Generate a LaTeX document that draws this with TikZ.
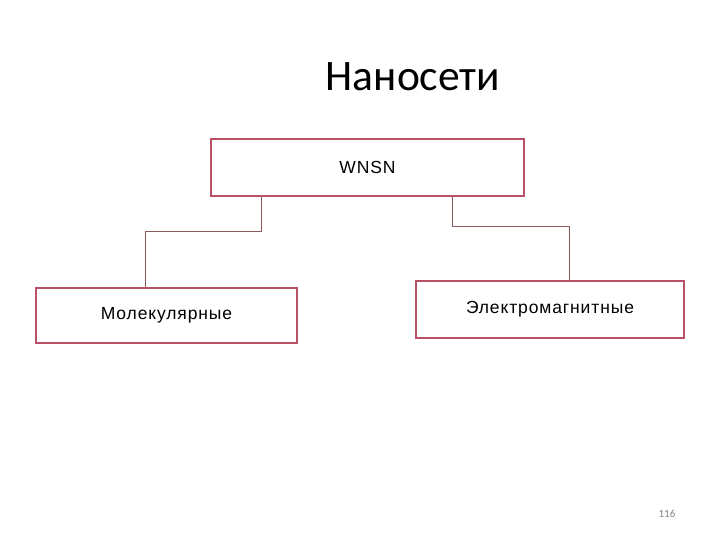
\documentclass[tikz,border=0pt]{standalone}
\usepackage{fontspec}
\setmainfont{Liberation Sans}
\newfontfamily\titlefont{Carlito}
\usepackage{tikz}
\usetikzlibrary{positioning}

\definecolor{boxred}{RGB}{185,80,100}
\definecolor{linkbrown}{RGB}{140,90,90}

\begin{document}
\begin{tikzpicture}[
  x=1pt, y=1pt,
  box/.style={draw=boxred, line width=2.8pt, fill=white, inner sep=0pt,
              font=\fontsize{17.5}{20}\selectfont\addfontfeatures{LetterSpace=5}},
  link/.style={draw=linkbrown, line width=0.9pt}
]
\useasboundingbox (0,0) rectangle (720,-540);

\node (title) at (413,-77) {\titlefont\fontsize{43.5}{48}\selectfont Наносети};

\node[box, minimum width=313pt, minimum height=57pt] (wnsn) at (367.5,-167.5) {WNSN};
\node[box, minimum width=261pt, minimum height=55pt] (mol) at (166.5,-315.5) {Молекулярные};
\node[box, minimum width=268pt, minimum height=57pt] (elm) at (550,-309.5) {Электромагнитные};

\draw[link] ([xshift=52pt]wnsn.south west) -- ++(0,-34) -| ([xshift=-21.5pt]mol.north);
\draw[link] ([xshift=-73pt]wnsn.south east) -- ++(0,-29) -| ([xshift=19pt]elm.north);

\node[text=gray] (page) at (667,-514) {\titlefont\fontsize{11}{13}\selectfont 116};
\end{tikzpicture}
\end{document}
